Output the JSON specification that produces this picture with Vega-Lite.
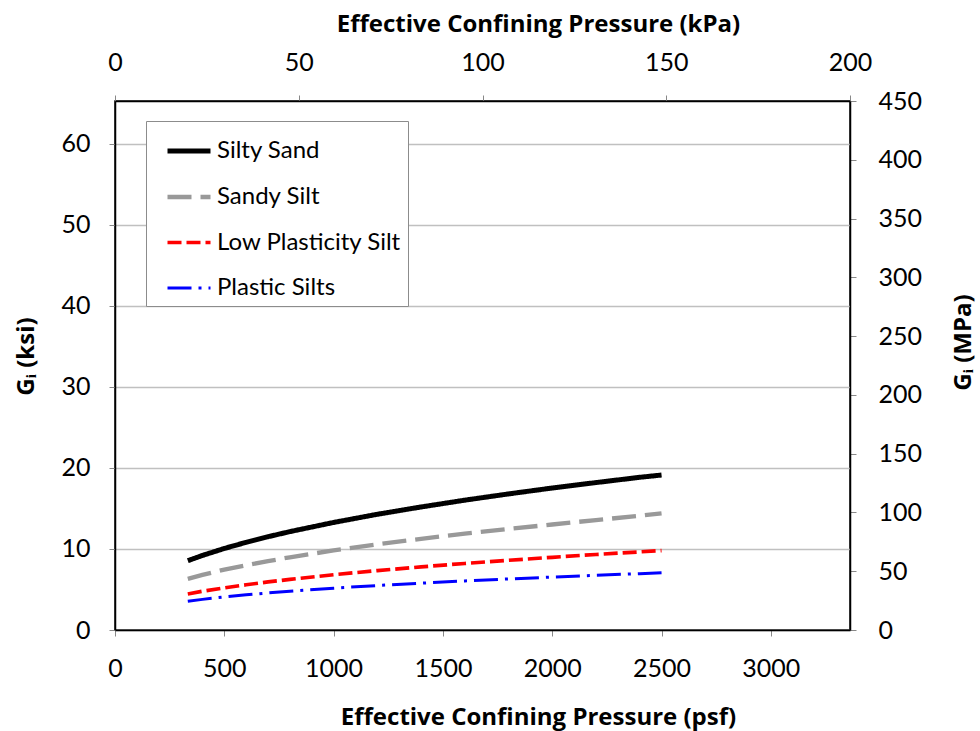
{
  "$schema": "https://vega.github.io/schema/vega-lite/v6.json",
  "width": 735,
  "height": 529,
  "autosize": {"type": "none"},
  "padding": {"left": 115, "top": 101, "right": 130, "bottom": 101},
  "background": "white",
  "config": {
    "font": "Lato",
    "view": {"stroke": "black", "strokeWidth": 1.5},
    "axis": {
      "labelFont": "Lato", "labelFontSize": 25, "labelColor": "black",
      "titleFont": "Open Sans", "titleFontSize": 24, "titleFontWeight": "bold", "titleColor": "black",
      "domainColor": "black", "domainWidth": 1.5, "tickColor": "#888888", "tickSize": 6,
      "grid": false
    },
    "legend": {
      "labelFont": "Lato", "labelFontSize": 24, "labelColor": "black", "labelLimit": 400
    }
  },
  "datasets": {
    "curves": [
      {"series": "Silty Sand", "psf": 333, "ksi": 8.55},
      {"series": "Silty Sand", "psf": 400, "ksi": 9.2},
      {"series": "Silty Sand", "psf": 500, "ksi": 10.06},
      {"series": "Silty Sand", "psf": 600, "ksi": 10.82},
      {"series": "Silty Sand", "psf": 700, "ksi": 11.51},
      {"series": "Silty Sand", "psf": 800, "ksi": 12.14},
      {"series": "Silty Sand", "psf": 1000, "ksi": 13.27},
      {"series": "Silty Sand", "psf": 1200, "ksi": 14.28},
      {"series": "Silty Sand", "psf": 1400, "ksi": 15.18},
      {"series": "Silty Sand", "psf": 1600, "ksi": 16.02},
      {"series": "Silty Sand", "psf": 1800, "ksi": 16.79},
      {"series": "Silty Sand", "psf": 2000, "ksi": 17.52},
      {"series": "Silty Sand", "psf": 2200, "ksi": 18.19},
      {"series": "Silty Sand", "psf": 2400, "ksi": 18.84},
      {"series": "Silty Sand", "psf": 2500, "ksi": 19.12},
      {"series": "Sandy Silt", "psf": 333, "ksi": 6.3},
      {"series": "Sandy Silt", "psf": 400, "ksi": 6.8},
      {"series": "Sandy Silt", "psf": 500, "ksi": 7.45},
      {"series": "Sandy Silt", "psf": 600, "ksi": 8.0},
      {"series": "Sandy Silt", "psf": 700, "ksi": 8.5},
      {"series": "Sandy Silt", "psf": 800, "ksi": 8.97},
      {"series": "Sandy Silt", "psf": 1000, "ksi": 9.82},
      {"series": "Sandy Silt", "psf": 1200, "ksi": 10.57},
      {"series": "Sandy Silt", "psf": 1400, "ksi": 11.25},
      {"series": "Sandy Silt", "psf": 1600, "ksi": 11.88},
      {"series": "Sandy Silt", "psf": 1800, "ksi": 12.47},
      {"series": "Sandy Silt", "psf": 2000, "ksi": 13.02},
      {"series": "Sandy Silt", "psf": 2200, "ksi": 13.56},
      {"series": "Sandy Silt", "psf": 2400, "ksi": 14.1},
      {"series": "Sandy Silt", "psf": 2500, "ksi": 14.4},
      {"series": "Low Plasticity Silt", "psf": 333, "ksi": 4.45},
      {"series": "Low Plasticity Silt", "psf": 400, "ksi": 4.78},
      {"series": "Low Plasticity Silt", "psf": 500, "ksi": 5.2},
      {"series": "Low Plasticity Silt", "psf": 600, "ksi": 5.58},
      {"series": "Low Plasticity Silt", "psf": 700, "ksi": 5.93},
      {"series": "Low Plasticity Silt", "psf": 800, "ksi": 6.25},
      {"series": "Low Plasticity Silt", "psf": 1000, "ksi": 6.82},
      {"series": "Low Plasticity Silt", "psf": 1200, "ksi": 7.33},
      {"series": "Low Plasticity Silt", "psf": 1400, "ksi": 7.79},
      {"series": "Low Plasticity Silt", "psf": 1600, "ksi": 8.21},
      {"series": "Low Plasticity Silt", "psf": 1800, "ksi": 8.6},
      {"series": "Low Plasticity Silt", "psf": 2000, "ksi": 8.97},
      {"series": "Low Plasticity Silt", "psf": 2200, "ksi": 9.32},
      {"series": "Low Plasticity Silt", "psf": 2400, "ksi": 9.64},
      {"series": "Low Plasticity Silt", "psf": 2500, "ksi": 9.8},
      {"series": "Plastic Silts", "psf": 333, "ksi": 3.55},
      {"series": "Plastic Silts", "psf": 400, "ksi": 3.78},
      {"series": "Plastic Silts", "psf": 500, "ksi": 4.08},
      {"series": "Plastic Silts", "psf": 600, "ksi": 4.34},
      {"series": "Plastic Silts", "psf": 700, "ksi": 4.57},
      {"series": "Plastic Silts", "psf": 800, "ksi": 4.78},
      {"series": "Plastic Silts", "psf": 1000, "ksi": 5.16},
      {"series": "Plastic Silts", "psf": 1200, "ksi": 5.49},
      {"series": "Plastic Silts", "psf": 1400, "ksi": 5.78},
      {"series": "Plastic Silts", "psf": 1600, "ksi": 6.05},
      {"series": "Plastic Silts", "psf": 1800, "ksi": 6.3},
      {"series": "Plastic Silts", "psf": 2000, "ksi": 6.53},
      {"series": "Plastic Silts", "psf": 2200, "ksi": 6.75},
      {"series": "Plastic Silts", "psf": 2400, "ksi": 6.95},
      {"series": "Plastic Silts", "psf": 2500, "ksi": 7.05}
    ],
    "kpa": [{"kPa": 0}, {"kPa": 200}],
    "mpa": [{"MPa": 0}, {"MPa": 450}]
  },
  "layer": [
    {
      "data": {"name": "curves"},
      "mark": {"type": "line", "strokeCap": "butt"},
      "encoding": {
        "x": {
          "field": "psf", "type": "quantitative",
          "scale": {"domain": [0, 3362], "nice": false, "zero": false},
          "axis": {
            "orient": "bottom", "values": [0, 500, 1000, 1500, 2000, 2500, 3000], "format": "d",
            "title": "Effective Confining Pressure (psf)", "labelPadding": 20, "titlePadding": 24,
            "titleX": 423, "labelFlush": false
          }
        },
        "y": {
          "field": "ksi", "type": "quantitative",
          "scale": {"domain": [0, 65.27], "nice": false, "zero": false},
          "axis": {
            "orient": "left", "values": [0, 10, 20, 30, 40, 50, 60],
            "title": "Gᵢ (ksi)", "labelPadding": 19, "titlePadding": 22, "titleY": 255,
            "grid": true, "gridColor": "#c0c0c0", "gridWidth": 1.3
          }
        },
        "color": {
          "field": "series", "type": "nominal",
          "scale": {
            "domain": ["Silty Sand", "Sandy Silt", "Low Plasticity Silt", "Plastic Silts"],
            "range": ["#000000", "#999999", "#ff0000", "#0000ff"]
          },
          "legend": {
            "title": null, "orient": "none", "legendX": 31, "legendY": 20,
            "symbolType": "stroke", "symbolSize": 1849, "rowPadding": 10,
            "padding": 6, "symbolOffset": 13, "labelOffset": 4,
            "strokeColor": "#8c8c8c", "fillColor": "white", "cornerRadius": 0
          }
        },
        "strokeDash": {
          "field": "series", "type": "nominal",
          "scale": {
            "domain": ["Silty Sand", "Sandy Silt", "Low Plasticity Silt", "Plastic Silts"],
            "range": [[1, 0], [24, 9], [14, 5], [24, 7, 3, 7]]
          },
          "legend": null
        },
        "strokeWidth": {
          "field": "series", "type": "nominal",
          "scale": {
            "domain": ["Silty Sand", "Sandy Silt", "Low Plasticity Silt", "Plastic Silts"],
            "range": [5, 3, 5.5, 3]
          },
          "legend": null
        }
      }
    },
    {
      "data": {"name": "kpa"},
      "mark": {"type": "point", "opacity": 0},
      "encoding": {
        "x": {
          "field": "kPa", "type": "quantitative",
          "scale": {"domain": [0, 200], "nice": false},
          "axis": {
            "orient": "top", "values": [0, 50, 100, 150, 200],
            "title": "Effective Confining Pressure (kPa)", "labelPadding": 20, "titlePadding": 14,
            "titleX": 423, "labelFlush": false
          }
        }
      }
    },
    {
      "data": {"name": "mpa"},
      "mark": {"type": "point", "opacity": 0},
      "encoding": {
        "y": {
          "field": "MPa", "type": "quantitative",
          "scale": {"domain": [0, 450], "nice": false},
          "axis": {
            "orient": "right", "values": [0, 50, 100, 150, 200, 250, 300, 350, 400, 450],
            "title": "Gᵢ (MPa)", "titleAngle": 270, "titleBaseline": "top", "labelPadding": 22, "titlePadding": 30,
            "titleY": 241
          }
        }
      }
    }
  ],
  "resolve": {
    "scale": {"x": "independent", "y": "independent"},
    "axis": {"x": "independent", "y": "independent"}
  }
}
